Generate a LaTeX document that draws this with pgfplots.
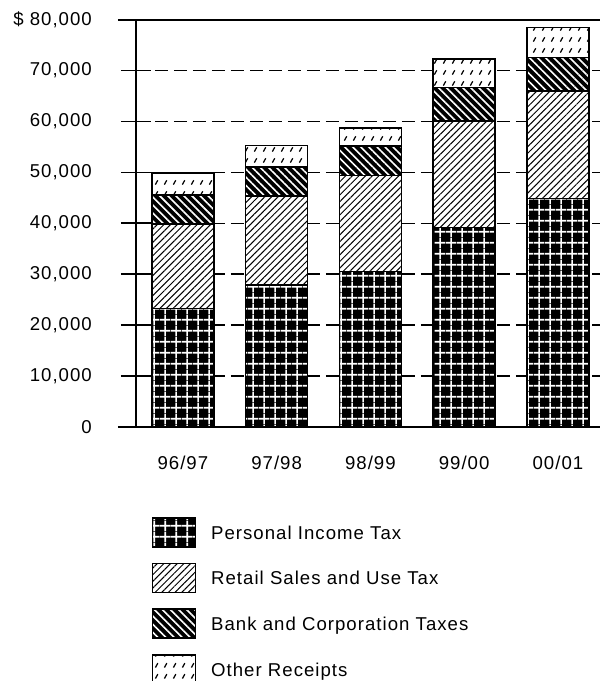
\documentclass[border=0pt]{standalone}
\usepackage{pgfplots}
\pgfplotsset{compat=1.18}
\usepackage{pgfplotstable}
\usetikzlibrary{patterns.meta}
\usepackage{fontspec}
\setmainfont{Liberation Sans}[LetterSpace=5.5]
\newcommand\chf{\fontsize{18.6pt}{22pt}\selectfont}

\pgfdeclarepattern{
  name=otherdash, type=uncolored,
  bottom left={\pgfpoint{0pt}{0pt}},
  top right={\pgfpoint{8.5pt}{10.5pt}},
  tile size={\pgfpoint{8.5pt}{10.5pt}},
  code={\pgfsetlinewidth{1.3pt}
    \pgfpathmoveto{\pgfpoint{2.5pt}{2.5pt}}
    \pgfpathlineto{\pgfpoint{5pt}{7pt}}
    \pgfusepath{stroke}}
}
\pgfdeclarepattern{
  name=wgrid, type=uncolored,
  bottom left={\pgfpoint{0pt}{0pt}},
  top right={\pgfpoint{10.7pt}{10.7pt}},
  tile size={\pgfpoint{10.7pt}{10.7pt}},
  code={\pgfsetlinewidth{1.6pt}
    \pgfpathmoveto{\pgfpoint{5.35pt}{0pt}}
    \pgfpathlineto{\pgfpoint{5.35pt}{10.7pt}}
    \pgfpathmoveto{\pgfpoint{0pt}{5.35pt}}
    \pgfpathlineto{\pgfpoint{10.7pt}{5.35pt}}
    \pgfusepath{stroke}}
}

\pgfplotstableread{
x pit retail bank other
0 23300 16540 5710 4330
1 27830 17520 5710 4220
2 30530 18820 5790 3540
3 39150 20900 6560 5650
4 44850 21100 6570 5880
}\data

\begin{document}
\begin{tikzpicture}
\useasboundingbox (-136pt,-254pt) rectangle (466pt,427pt);
\begin{axis}[
  at={(0pt,0pt)}, anchor=south west,
  scale only axis, width=464pt, height=407.5pt,
  ybar stacked, bar width=62pt,
  xmin=-0.5, xmax=4.449, ymin=0, ymax=80000,
  clip=false,
  axis y line*=left, axis x line*=bottom,
  x axis line style={draw=none},
  y axis line style={line width=2pt},
  xtick={0,1,2,3,4},
  xticklabels={96/97,97/98,98/99,99/00,00/01},
  xtick style={draw=none},
  ytick={0,10000,20000,30000,40000,50000,60000,70000,80000},
  yticklabels={0,{10,000},{20,000},{30,000},{40,000},{50,000},{60,000},{70,000},{\$ 80,000}},
  scaled y ticks=false,
  ytick style={line width=1.6pt, black},
  tick align=center, major tick length=30pt,
  /pgf/number format/assume math mode=true,
  yticklabel style={font=\chf, anchor=east, inner sep=0pt, xshift=-29pt},
  xticklabel style={font=\chf, anchor=north, inner sep=0pt, yshift=-14pt},
  ymajorgrids,
  major grid style={black, line width=1.5pt, dash pattern=on 13pt off 6pt},
  legend style={at={(0.0338,-0.2209)}, anchor=north west, draw=none, fill=none,
    inner sep=0pt, outer sep=0pt, row sep=15.2pt, column sep=0pt,
    nodes={inner sep=0pt, anchor=base west}, font=\chf},
  legend cell align=left,
  legend image code/.code={\draw[#1, line width=1.5pt] (0pt,-7.7pt) rectangle (43pt,21.3pt); \path (58pt,0pt);},
  every axis plot/.append style={draw=black, line width=1.5pt},
]
\addplot[draw=black, preaction={fill=black}, pattern=wgrid, pattern color=white] table[x=x,y=pit]{\data};
\addlegendentry{Personal Income Tax}
\addplot[draw=black, preaction={fill=white}, pattern={Lines[angle=45, distance=4.7pt, line width=1pt]}, pattern color=black] table[x=x,y=retail]{\data};
\addlegendentry{Retail Sales and Use Tax}
\addplot[draw=black, preaction={fill=black}, pattern={Lines[angle=-45, distance=5.7pt, line width=1.6pt]}, pattern color=white] table[x=x,y=bank]{\data};
\addlegendentry{Bank and Corporation Taxes}
\addplot[draw=black, preaction={fill=white}, pattern=otherdash, pattern color=black] table[x=x,y=other]{\data};
\addlegendentry{Other Receipts}
\draw[line width=2pt] ([xshift=-18pt]rel axis cs:0,0) -- (rel axis cs:1,0);
\draw[line width=2pt] ([xshift=-18pt]rel axis cs:0,1) -- (rel axis cs:1,1);
\end{axis}
\end{tikzpicture}
\end{document}
